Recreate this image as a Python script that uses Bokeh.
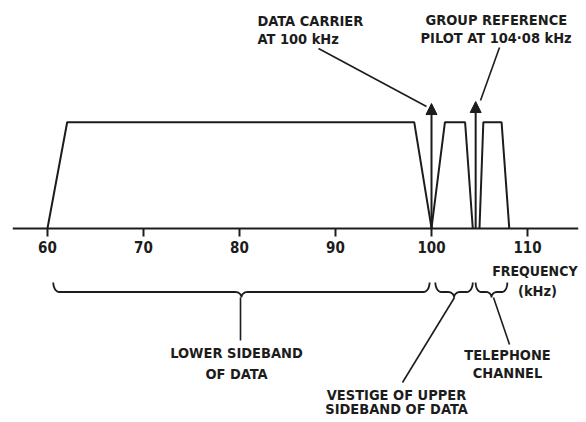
from bokeh.plotting import figure
from bokeh.models import Range1d, FixedTicker, Label, Arrow, NormalHead
from bokeh.embed import file_html
from bokeh.resources import INLINE

# ---- data (kHz, relative level) ----
lower_sideband_khz = [60.0, 62.05, 98.2, 100.0]
lower_sideband_lvl = [0, 1, 1, 0]
vestige_khz = [100.0, 101.4, 103.5, 104.3]
vestige_lvl = [0, 1, 1, 0]
telephone_khz = [105.0, 105.4, 107.3, 108.1]
telephone_lvl = [0, 1, 1, 0]
carrier_khz = 100.0
carrier_lvl = 1.176
pilot_khz = 104.6
pilot_lvl = 1.195
tick_values = [60, 70, 80, 90, 100, 110]
tick_labels = ["60", "70", "80", "90", "100", "110"]
brace_spans = [(60.6, 99.8), (100.4, 104.3), (104.6, 107.9)]

INK = "#1c1c1c"
FONT = "DejaVu Sans Condensed"

# pixel helpers (annotation placement only)
PX_PER_KHZ = 9.6
PX_PER_LVL = 106.0
X100 = 431.0
Y0 = 227.7


def kx(xpix):
    return 100.0 + (xpix - X100) / PX_PER_KHZ


def ly(ypix):
    return (Y0 - ypix) / PX_PER_LVL


p = figure(width=586, height=422, output_backend="svg", toolbar_location=None,
           x_range=Range1d(kx(12), kx(578)), y_range=Range1d(ly(422), ly(0)),
           y_axis_location=None, min_border_left=12, min_border_right=8,
           min_border_top=0, min_border_bottom=0)
p.outline_line_color = None
p.xgrid.visible = False
p.ygrid.visible = False
p.background_fill_color = "white"
p.border_fill_color = "white"

ax = p.xaxis[0]
ax.fixed_location = 0
ax.ticker = FixedTicker(ticks=tick_values)
ax.major_label_overrides = {v: s for v, s in zip(tick_values, tick_labels)}
ax.major_tick_in = 0
ax.major_tick_out = 8
ax.minor_tick_line_color = None
ax.axis_line_width = 2
ax.axis_line_color = INK
ax.major_tick_line_width = 2
ax.major_tick_line_color = INK
ax.major_label_standoff = 5
ax.major_label_text_font = FONT
ax.major_label_text_font_style = "bold"
ax.major_label_text_font_size = "15px"
ax.major_label_text_color = INK

# bands
for xs, ys in [(lower_sideband_khz, lower_sideband_lvl),
               (vestige_khz, vestige_lvl),
               (telephone_khz, telephone_lvl)]:
    p.line(xs, ys, line_color=INK, line_width=2)

# carrier and pilot arrows
for xk, lv in [(carrier_khz, carrier_lvl), (pilot_khz, pilot_lvl)]:
    p.add_layout(Arrow(end=NormalHead(size=11, fill_color=INK, line_color=INK),
                       x_start=xk, y_start=0, x_end=xk, y_end=lv,
                       line_color=INK, line_width=2))


# braces
def brace(x0, x1):
    import math
    xa, xb = X100 + (x0 - 100) * PX_PER_KHZ, X100 + (x1 - 100) * PX_PER_KHZ
    xc = (xa + xb) / 2
    ytop, ymid, ytip = 282.0, 291.5, 297.0
    r = min(6.0, (xb - xa) / 6)
    pts = []
    n = 8
    for i in range(n + 1):
        t = i / n * math.pi / 2
        pts.append((xa + r * (1 - math.cos(t)), ytop + (ymid - ytop) * math.sin(t)))
    for i in range(n + 1):
        t = i / n * math.pi / 2
        pts.append((xc - r + r * math.sin(t), ymid + (ytip - ymid) * (1 - math.cos(t))))
    for i in range(n + 1):
        t = i / n * math.pi / 2
        pts.append((xc + r - r * math.cos(t), ytip - (ytip - ymid) * math.sin(t)))
    for i in range(n + 1):
        t = i / n * math.pi / 2
        pts.append((xb - r + r * math.sin(t), ymid - (ymid - ytop) * (1 - math.cos(t))))
    return [kx(a) for a, b in pts], [ly(b) for a, b in pts]


for a, b in brace_spans:
    bx, by = brace(a, b)
    p.line(bx, by, line_color=INK, line_width=1.8)

# leader lines
leaders = [((240, 297), (240, 340)), ((454, 297), (402, 382)), ((493, 297), (509, 344)),
           ((318, 48), (426, 106)), ((499, 47), (480, 100))]
for (x0, y0), (x1, y1) in leaders:
    p.line([kx(x0), kx(x1)], [ly(y0), ly(y1)], line_color=INK, line_width=1.6)

texts = [
    ("DATA CARRIER", 257, 20, "left", "14.5px"),
    ("AT 100 kHz", 257, 38, "left", "14.5px"),
    ("GROUP REFERENCE", 425, 19, "left", "14.5px"),
    ("PILOT AT 104·08 kHz", 420, 37, "left", "14.5px"),
    ("FREQUENCY", 577, 270, "right", "14px"),
    ("(kHz)", 537, 290, "center", "14.5px"),
    ("LOWER SIDEBAND", 236, 352, "center", "14.5px"),
    ("OF DATA", 236, 373, "center", "14.5px"),
    ("TELEPHONE", 507, 354, "center", "14.5px"),
    ("CHANNEL", 507, 372, "center", "14.5px"),
    ("VESTIGE OF UPPER", 396, 394, "center", "14.5px"),
    ("SIDEBAND OF DATA", 396, 408, "center", "14.5px"),
]
for s, xp, yp, al, fs in texts:
    p.add_layout(Label(x=kx(xp), y=ly(yp), text=s, text_align=al, text_baseline="middle",
                       text_font=FONT, text_font_style="bold", text_font_size=fs,
                       text_color=INK))

open("out.html", "w").write(file_html(p, INLINE))
